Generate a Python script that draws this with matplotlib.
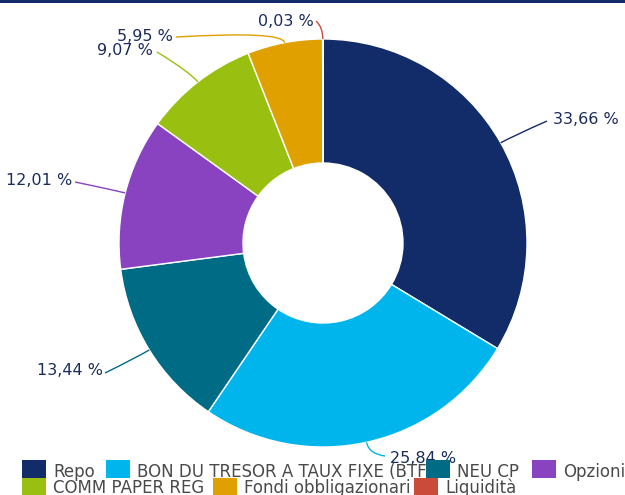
import numpy as np
import matplotlib
matplotlib.use("Agg")
import matplotlib.pyplot as plt
from matplotlib.path import Path
from matplotlib.patches import PathPatch, Rectangle

# Portfolio breakdown (%)
categories = ["Repo", "BON DU TRESOR A TAUX FIXE (BTF)", "NEU CP", "Opzioni",
              "COMM PAPER REG", "Fondi obbligazionari", "Liquidità"]
values = [33.66, 25.84, 13.44, 12.01, 9.07, 5.95, 0.03]
colors = ["#122c69", "#00b5ec", "#006b84", "#8a43c0", "#99c010", "#dfa000", "#cb4b3a"]

plt.rcParams["font.family"] = ["DejaVu Sans"]

W, H = 625, 495
fig = plt.figure(figsize=(W / 100, H / 100), dpi=100)
ax = fig.add_axes([0, 0, 1, 1])

# donut geometry, in pixel units (y grows downward)
cx, cy = 323, 243
R_OUT, R_IN = 204, 80

ax.pie(values, colors=colors, radius=R_OUT, center=(cx, cy),
       startangle=-90, counterclock=True,
       wedgeprops=dict(width=R_OUT - R_IN, edgecolor="white", linewidth=1.0))
ax.set_xlim(0, W)
ax.set_ylim(H, 0)
ax.set_aspect("auto")
ax.axis("off")

# top rule
ax.add_patch(Rectangle((0, 0), W, 3.2, color="#132c69", lw=0, zorder=5))

# data labels: (text x, baseline y, alignment) and connector end point
label_layout = [(553, 124, "left"), (390, 463, "left"), (103, 375, "right"),
                (72, 185, "right"), (153, 55, "right"), (173, 41, "right"),
                (314, 26, "right")]
connector_end = [(547, 121), (385, 456), (105, 373), (75, 182),
                 (157, 52), (176, 37), (316, 21)]

total = sum(values)
cum = 0.0
for v, col, (tx, ty, ha), (ex, ey) in zip(values, colors, label_layout, connector_end):
    phi = 2 * np.pi * (cum + v / 2) / total
    cum += v
    dx, dy = np.sin(phi), -np.cos(phi)
    px, py = cx + R_OUT * dx, cy + R_OUT * dy
    qx, qy = px + 12 * dx, py + 12 * dy
    path = Path([(px, py), (qx, qy), (ex, ey)],
                [Path.MOVETO, Path.CURVE3, Path.CURVE3])
    ax.add_patch(PathPatch(path, fill=False, edgecolor=col, lw=1.0, zorder=3))
    txt = f"{v:.2f} %".replace(".", ",")
    ax.text(tx, ty, txt, ha=ha, va="baseline", fontsize=11.5,
            color="#1a2c5b", zorder=4)

# legend, laid out in two rows
legend_layout = [(22, 0), (106, 0), (426, 0), (532, 0), (22, 1), (213, 1), (414, 1)]
row_top = [460, 478]
row_base = [477, 493]
for name, col, (sx, row) in zip(categories, colors, legend_layout):
    ax.text(sx + 31, row_base[row], name, ha="left", va="baseline",
            fontsize=12, color="#4a4a4a", zorder=6)
    ax.add_patch(Rectangle((sx, row_top[row]), 24, 18, color=col, lw=0, zorder=7))

fig.savefig("out.png", dpi=100)
